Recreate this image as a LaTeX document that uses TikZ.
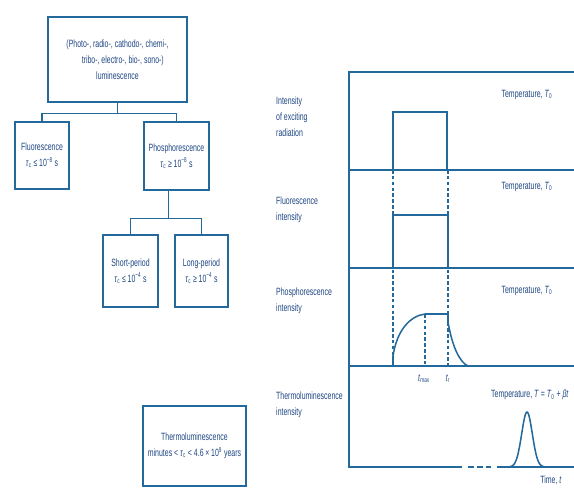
\documentclass[tikz,border=0pt]{standalone}
\usepackage{amsmath,amssymb}
\usepackage{fontspec}
\setmainfont{Liberation Sans}[FakeStretch=0.66]
\usetikzlibrary{positioning,calc}
\definecolor{lum}{RGB}{35,105,155}
\definecolor{lumtext}{RGB}{30,70,130}
\newcommand{\tauc}{\textit{τ}\textsubscript{c}}
\newcommand{\Tnull}{\textit{T}\textsubscript{0}}

\begin{document}
\begin{tikzpicture}[x=0.03cm,y=-0.03cm,font=\fontsize{9}{13.5}\selectfont,
  box/.style={draw=lum,line width=1.1pt,align=center,text=lumtext,inner sep=0pt},
  lbl/.style={text=lumtext,align=left,anchor=west,inner sep=0pt},
  temp/.style={text=lumtext,inner sep=0pt},
  axis/.style={draw=lum,line width=1.4pt},
  sig/.style={draw=lum,line width=1.3pt},
  mark line/.style={draw=lum,line width=0.9pt,dash pattern=on 3pt off 2pt}]
\useasboundingbox (0,0) rectangle (574,495);
% classification tree
\node[box,minimum width=139*0.03cm,minimum height=85*0.03cm] (top) at (117.5,59.5)
  {(Photo-, radio-, cathodo-, chemi-,\\ \hspace*{1em}tribo-, electro-, bio-, sono-)\\ luminescence};
\node[box,minimum width=54*0.03cm,minimum height=67*0.03cm] (fluo) at (42,155.5)
  {Fluorescence\\ \tauc\,≤\,10\textsuperscript{−8}\,s};
\node[box,minimum width=65*0.03cm,minimum height=68*0.03cm] (phos) at (176.5,156)
  {Phosphorescence\\ \tauc\,≥\,10\textsuperscript{−8}\,s};
\node[box,minimum width=55*0.03cm,minimum height=72*0.03cm] (short) at (130.5,271)
  {Short-period\\ \tauc\,≤\,10\textsuperscript{−4}\,s};
\node[box,minimum width=53*0.03cm,minimum height=72*0.03cm] (long) at (201.5,271)
  {Long-period\\ \tauc\,≥\,10\textsuperscript{−4}\,s};
\node[box,minimum width=103*0.03cm,minimum height=80*0.03cm] (thermo) at (194.5,446)
  {Thermoluminescence\\ minutes < \tauc\ < 4.6\,×\,10\textsuperscript{9} years};
\draw[lum,line width=1.1pt] (top.south) -- ++(0,11) coordinate (b1) -| (fluo.north);
\draw[lum,line width=1.1pt] (b1) -| (phos.north);
\draw[lum,line width=1.1pt] ($(phos.south)+(-8,0)$) -- ++(0,28) coordinate (b2) -| (short.north);
\draw[lum,line width=1.1pt] (b2) -| (long.north);
\draw[lum,line width=1.1pt] ($(long.south)+(-2,0)$) -- ($(long.south)+(-2,0)$ |- thermo.north);
% time diagrams
\draw[axis] (580,72) -- (349,72) -- (349,467) -- (462,467);
\draw[axis] (497,467) -- (580,467);
\draw[lum,line width=1.7pt,dash pattern=on 5pt off 2.5pt] (468,467) -- (494,467);
\draw[axis] (349,170) -- (580,170);
\draw[axis] (349,268) -- (580,268);
\draw[axis] (349,366) -- (580,366);
\draw[mark line] (393,170) -- (393,366);
\draw[mark line] (448,170) -- (448,366);
\draw[mark line] (425,314) -- (425,366);
\draw[sig] (393,170) -- (393,112) -- (447,112) -- (447,170);
\draw[sig] (393,268) -- (393,215) -- (448,215) -- (448,268);
\draw[sig] (393,366) -- (393,356) .. controls (397,330) and (410,316) .. (425,314) -- (448,314)
  -- (448,322) .. controls (452,345) and (459,362) .. (468,366);
\draw[sig] plot[domain=506:548,samples=50] (\x,{467-55*exp(-((\x-527)/7.5)^2)});
\node[lbl] (exlbl) at (276,117) {Intensity\\ of exciting\\ radiation};
\node[lbl] (fllbl) at (276,209.5) {Fluorescence\\ intensity};
\node[lbl] (phlbl) at (276,300.5) {Phosphorescence\\ intensity};
\node[lbl] (thlbl) at (276,405) {Thermoluminescence\\ intensity};
\node[temp] (t1) at (527,95) {Temperature, \Tnull};
\node[temp] (t2) at (527,187) {Temperature, \Tnull};
\node[temp] (t3) at (527,291) {Temperature, \Tnull};
\node[temp,anchor=west] (t4) at (491,395) {Temperature, \textit{T} = \Tnull\ + \textit{βt}};
\node[temp] (tmax) at (424,379) {\textit{t}\textsubscript{max}};
\node[temp] (tr) at (448,379) {\textit{t}\textsubscript{r}};
\node[temp] (time) at (551,480) {Time, \textit{t}};
\end{tikzpicture}
\end{document}
